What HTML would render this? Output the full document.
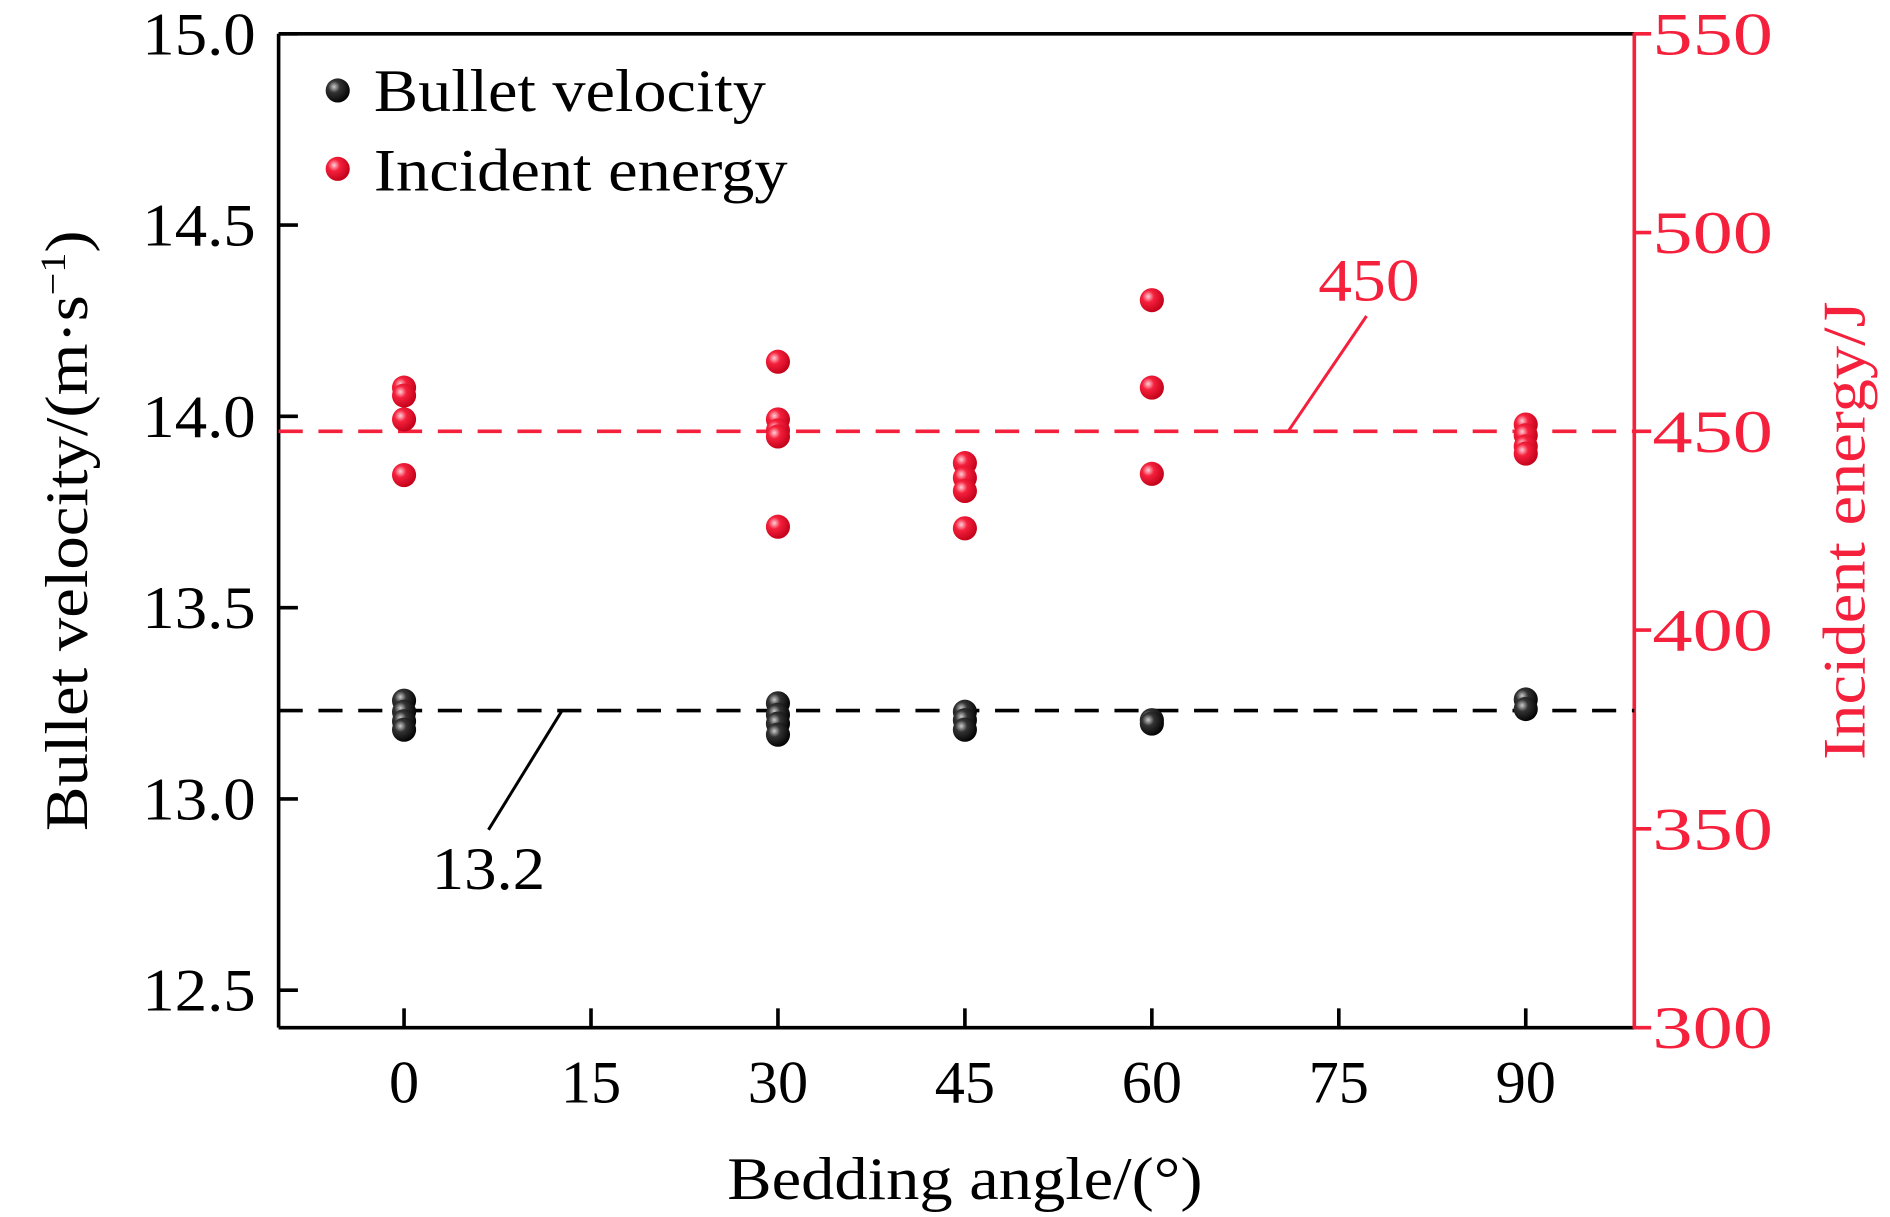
<!DOCTYPE html>
<html><head><meta charset="utf-8"><style>html,body{margin:0;padding:0;background:#fff}svg{display:block}text{font-family:"Liberation Serif",serif}</style></head>
<body>
<svg id="chart" width="1890" height="1217" viewBox="0 0 1567 1009" preserveAspectRatio="none" xmlns="http://www.w3.org/2000/svg">
<defs>
<radialGradient id="gb" cx="0.35" cy="0.35" r="0.7"><stop offset="0" stop-color="#ccc"/><stop offset="0.35" stop-color="#333"/><stop offset="1" stop-color="#000"/></radialGradient>
<radialGradient id="gr" cx="0.35" cy="0.35" r="0.7"><stop offset="0" stop-color="#ffd0d8"/><stop offset="0.35" stop-color="#f5203c"/><stop offset="1" stop-color="#c00018"/></radialGradient>
</defs>
<g id="axes"></g>
<g id="marks"></g>
</svg>
<script>
const xTicks=[0,15,30,45,60,75,90];
const yLeftTicks=["12.5","13.0","13.5","14.0","14.5","15.0"];
const yRightTicks=["300","350","400","450","500","550"];
const velAngles=[0,0,0,0,30,30,30,30,45,45,45,60,60,90,90];
const velValues=[13.257,13.228,13.203,13.181,13.25,13.22,13.197,13.168,13.228,13.206,13.181,13.206,13.197,13.26,13.235];
const engAngles=[0,0,0,0,30,30,30,30,30,45,45,45,45,60,60,60,90,90,90,90];
const engValues=[461,459,453,439,467.5,453,450.2,448.7,426,442,438.3,435,425.6,483,461,439.3,451.7,449,446.2,444.4];
const velMean=13.231, engMean=450;

const L=231,R=1355,T=28,B=852;
const xs=v=>335+(v/15)*155;
const yl=v=>28+(15-v)*317.2;
const yr=v=>28+(550-v)*(B-T)/250;
const NS="http://www.w3.org/2000/svg";
const axes=document.getElementById('axes'), marks=document.getElementById('marks');
function mk(tag,attrs,parent,txt){const e=document.createElementNS(NS,tag);for(const k in attrs)e.setAttribute(k,attrs[k]);if(txt!==undefined)e.textContent=txt;parent.appendChild(e);return e;}
const FS=50;
let e;
e=mk('line',{x1:L,y1:T,x2:L,y2:B,stroke:'#000','stroke-width':3},axes);


e=mk('line',{x1:L,y1:B,x2:R,y2:B,stroke:'#000','stroke-width':3},axes);


e=mk('line',{x1:L,y1:T,x2:R,y2:T,stroke:'#000','stroke-width':3},axes);


e=mk('line',{x1:R,y1:T-1,x2:R,y2:B+1,stroke:'#f5203c','stroke-width':3},axes);



xTicks.forEach(t=>{
  e=mk('line',{x1:xs(t),y1:B,x2:xs(t),y2:B-16,stroke:'#000','stroke-width':3},axes);
  
  
  const s=String(t);
  e=mk('text',{x:xs(t),y:914,'font-size':FS,'text-anchor':'middle',textLength:s.length*25,lengthAdjust:'spacingAndGlyphs'},axes,s);
  
  
});
yLeftTicks.forEach(t=>{
  const y=yl(parseFloat(t));
  e=mk('line',{x1:L,y1:y,x2:L+16,y2:y,stroke:'#000','stroke-width':3},axes);
  
  
  e=mk('text',{x:212,y:y+17,'font-size':FS,'text-anchor':'end',textLength:94,lengthAdjust:'spacingAndGlyphs'},axes,t);
  
  
});
yRightTicks.forEach(t=>{
  const y=yr(parseFloat(t));
  e=mk('line',{x1:R,y1:y,x2:R+14,y2:y,stroke:'#f5203c','stroke-width':3},axes);
  
  
  e=mk('text',{x:1370,y:y+17,'font-size':FS,fill:'#f5203c',textLength:100,lengthAdjust:'spacingAndGlyphs'},axes,t);
  
  
});
e=mk('text',{x:800,y:994,'font-size':FS,'text-anchor':'middle',textLength:394,lengthAdjust:'spacingAndGlyphs'},axes,'Bedding angle/(°)');


e=mk('text',{x:0,y:0,'font-size':FS,'text-anchor':'middle',transform:'translate(72,440) rotate(-90)',textLength:498,lengthAdjust:'spacingAndGlyphs'},axes);
e.innerHTML='Bullet velocity/(m·s<tspan dy="-18" font-size="30">−1</tspan><tspan dy="18">)</tspan>';


e=mk('text',{x:0,y:0,'font-size':FS,'text-anchor':'middle',fill:'#f5203c',transform:'translate(1546,440) rotate(-90)',textLength:380,lengthAdjust:'spacingAndGlyphs'},axes,'Incident energy/J');



e=mk('line',{x1:L,y1:yl(velMean),x2:R,y2:yl(velMean),stroke:'#000','stroke-width':3,'stroke-dasharray':'20 13'},marks);


e=mk('line',{x1:L,y1:yr(engMean),x2:R,y2:yr(engMean),stroke:'#f5203c','stroke-width':3,'stroke-dasharray':'20 13'},marks);



velAngles.forEach((a,i)=>{
  e=mk('circle',{cx:xs(a),cy:yl(velValues[i]),r:10,fill:'url(#gb)'},marks);
  
  
});
engAngles.forEach((a,i)=>{
  e=mk('circle',{cx:xs(a),cy:yr(engValues[i]),r:10,fill:'url(#gr)'},marks);
  
  
});

e=mk('line',{x1:1133,y1:262,x2:1068,y2:yr(engMean),stroke:'#f5203c','stroke-width':2.5},marks);


e=mk('text',{x:1135,y:249,'font-size':FS,'text-anchor':'middle',fill:'#f5203c',textLength:84,lengthAdjust:'spacingAndGlyphs'},marks,'450');


e=mk('line',{x1:466,y1:yl(velMean),x2:405,y2:688,stroke:'#000','stroke-width':2.5},marks);


e=mk('text',{x:405,y:737,'font-size':FS,'text-anchor':'middle',textLength:94,lengthAdjust:'spacingAndGlyphs'},marks,'13.2');



e=mk('circle',{cx:280,cy:75,r:10,fill:'url(#gb)'},marks);


e=mk('text',{x:310,y:92,'font-size':FS,textLength:325,lengthAdjust:'spacingAndGlyphs'},marks,'Bullet velocity');


e=mk('circle',{cx:280,cy:140,r:10,fill:'url(#gr)'},marks);


e=mk('text',{x:310,y:158,'font-size':FS,textLength:343,lengthAdjust:'spacingAndGlyphs'},marks,'Incident energy');


</script>
</body></html>
